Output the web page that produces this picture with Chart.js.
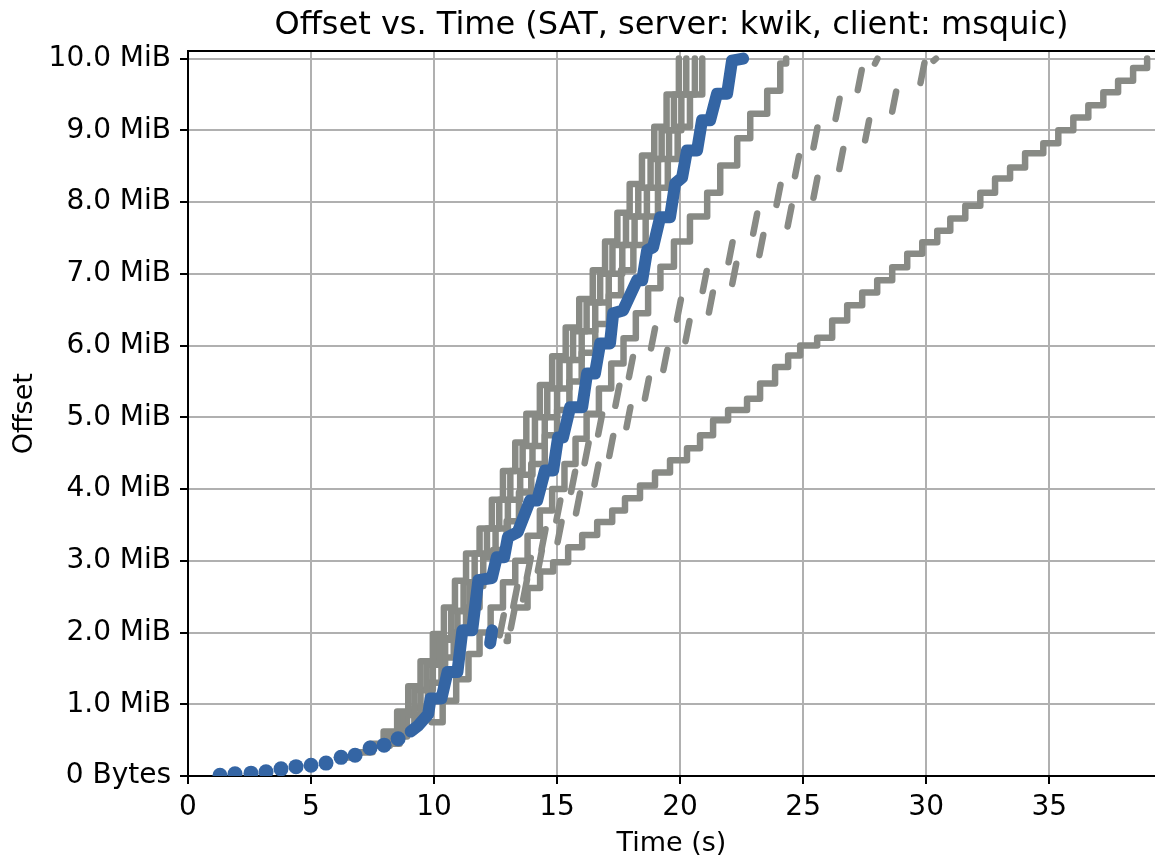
<!DOCTYPE html>
<html>
<head>
<meta charset="utf-8">
<script src="https://cdn.jsdelivr.net/npm/chart.js@4.4.1/dist/chart.umd.min.js"></script>
<style>
  html, body { margin: 0; padding: 0; background: #fff; }
  #wrap { width: 1155px; height: 860px; }
</style>
</head>
<body>
<div id="wrap"><canvas id="offsetChart" width="1155" height="860"></canvas></div>
<script>
// values: [time (s), offset (MiB)], null = gap
var yTicks = [0, 1, 2, 3, 4, 5, 6, 7, 8, 9, 10];
var xTicks = [0, 5, 10, 15, 20, 25, 30, 35];

// highlighted run (blue): slow start dots, then bursts
var blueEarly = [[1.30,0.01],[1.91,0.03],[2.56,0.04],[3.17,0.06],[3.78,0.10],[4.39,0.13],[5.00,0.15],
  [5.61,0.18],[6.22,0.26],[6.79,0.29],[7.40,0.39],[7.97,0.43],[8.54,0.52]];
var blueRun = [[9.05,0.62],[9.35,0.70],[9.76,0.86],[9.86,1.08],[10.30,1.08],[10.55,1.45],[10.95,1.45],
  [11.15,2.03],[11.55,2.03],[11.80,2.73],[12.35,2.76],[12.55,3.05],[12.85,3.05],[13.00,3.33],[13.40,3.40],
  [13.90,3.84],[14.19,3.84],[14.51,4.26],[14.84,4.26],[15.04,4.72],[15.24,4.72],[15.53,5.14],[16.02,5.14],
  [16.22,5.61],[16.54,5.61],[16.75,6.03],[17.15,6.03],[17.28,6.45],[17.68,6.49],[18.25,6.91],[18.46,6.91],
  [18.66,7.33],[18.90,7.37],[19.19,7.79],[19.59,7.79],[19.80,8.26],[20.08,8.34],[20.28,8.72],[20.69,8.72],
  [20.89,9.14],[21.22,9.14],[21.50,9.51],[21.91,9.51],[22.11,9.97],[22.56,10.00], null,
  [12.28,1.85],[12.36,2.03]];

// other runs (gray), staircase corners
var runF1 = [[6.2,0.26],[6.8,0.33],[7.4,0.45],[7.95,0.62],[8.5,0.9],[8.95,1.25],[9.45,1.6],[9.95,1.98],
  [10.4,2.35],[10.85,2.72],[11.3,3.1],[11.85,3.45],[12.35,3.85],[12.8,4.25],[13.3,4.65],[13.75,5.05],
  [14.3,5.45],[14.8,5.85],[15.35,6.25],[15.9,6.65],[16.45,7.05],[16.95,7.45],[17.45,7.85],[17.95,8.25],
  [18.45,8.65],[18.95,9.05],[19.45,9.5],[19.95,10.0]];
var runF2 = [[6.2,0.26],[6.8,0.33],[7.5,0.42],[8.1,0.6],[8.7,0.88],[9.2,1.2],[9.7,1.55],[10.2,1.92],
  [10.7,2.3],[11.2,2.7],[11.65,3.1],[12.15,3.45],[12.65,3.85],[13.1,4.25],[13.6,4.6],[14.1,5.0],
  [14.6,5.4],[15.1,5.8],[15.65,6.2],[16.2,6.6],[16.75,7.0],[17.25,7.4],[17.8,7.8],[18.3,8.2],
  [18.8,8.6],[19.25,9.0],[19.75,9.5],[20.25,10.0]];
var runF3 = [[7.5,0.42],[8.2,0.55],[8.9,0.85],[9.45,1.2],[9.95,1.55],[10.45,1.9],[10.95,2.3],[11.45,2.65],
  [12.0,3.05],[12.5,3.45],[13.0,3.85],[13.5,4.2],[14.0,4.6],[14.5,5.0],[15.0,5.4],[15.5,5.8],
  [16.0,6.2],[16.55,6.6],[17.1,7.0],[17.65,7.4],[18.15,7.8],[18.65,8.2],[19.1,8.6],[19.55,9.0],
  [20.05,9.5],[20.6,10.0]];
var runF4 = [[8.0,0.45],[8.6,0.62],[9.2,0.95],[9.75,1.3],[10.3,1.65],[10.8,2.0],[11.3,2.35],[11.85,2.75],
  [12.4,3.15],[12.95,3.55],[13.45,3.95],[13.95,4.35],[14.5,4.75],[15.0,5.1],[15.5,5.5],[16.0,5.9],
  [16.55,6.3],[17.1,6.7],[17.6,7.05],[18.1,7.4],[18.6,7.8],[19.1,8.2],[19.5,8.6],[19.9,9.05],
  [20.4,9.5],[20.9,10.0]];
var runB = [[9.9,0.75],[10.35,1.05],[10.9,1.35],[11.4,1.7],[11.85,2.0],[12.3,2.35],[12.8,2.7],[13.3,3.0],
  [13.8,3.35],[14.3,3.7],[14.8,4.0],[15.3,4.35],[15.75,4.7],[16.2,5.05],[16.7,5.4],[17.2,5.75],
  [17.7,6.1],[18.2,6.45],[18.7,6.8],[19.2,7.1],[19.75,7.45],[20.4,7.8],[21.1,8.13],[21.63,8.51],
  [22.32,8.89],[22.85,9.23],[23.54,9.55],[24.07,9.93],[24.31,10.0]];
var runE = [[12.95,1.88],[13.0,1.95], null,
  [13.3,2.35],[13.8,2.62],[14.31,2.85],[14.84,2.98],[15.45,3.19],[16.02,3.36],[16.63,3.54],[17.24,3.70],
  [17.76,3.87],[18.37,4.05],[18.98,4.23],[19.59,4.40],[20.28,4.57],[20.81,4.75],[21.34,4.96],[21.95,5.10],
  [22.72,5.26],[23.25,5.47],[23.86,5.70],[24.39,5.86],[24.88,6.00],[25.57,6.11],[26.18,6.35],[26.79,6.56],
  [27.40,6.74],[28.01,6.91],[28.62,7.09],[29.23,7.28],[29.84,7.44],[30.45,7.60],[30.98,7.77],[31.59,7.95],
  [32.20,8.13],[32.80,8.33],[33.41,8.48],[34.02,8.68],[34.76,8.82],[35.37,9.00],[35.98,9.18],[36.59,9.35],
  [37.20,9.53],[37.80,9.69],[38.41,9.87],[38.98,10.0]];

// dashed runs: each burst is one short stroke
var runC = [[12.67,1.96],[12.83,2.24], null, [13.22,2.36],[13.38,2.64], null, [13.77,2.76],[13.93,3.04], null,
  [14.37,3.16],[14.53,3.44], null, [14.97,3.56],[15.13,3.84], null, [15.57,3.96],[15.73,4.24], null,
  [16.12,4.36],[16.28,4.64], null, [16.67,4.76],[16.83,5.04], null, [17.37,5.16],[17.53,5.44], null,
  [17.92,5.56],[18.08,5.84], null, [18.82,5.96],[18.98,6.24], null, [19.87,6.36],[20.03,6.64], null,
  [20.92,6.76],[21.08,7.04], null, [21.97,7.16],[22.13,7.44], null, [22.97,7.56],[23.13,7.84], null,
  [23.92,7.96],[24.08,8.24], null, [24.67,8.36],[24.83,8.64], null, [25.42,8.76],[25.58,9.04], null,
  [26.32,9.16],[26.48,9.44], null, [27.22,9.56],[27.38,9.84], null, [27.92,9.93],[28.02,10.0]];
var runD = [[13.12,2.06],[13.28,2.34], null, [13.62,2.46],[13.78,2.74], null, [14.22,2.86],[14.38,3.14], null,
  [15.02,3.26],[15.18,3.54], null, [15.77,3.66],[15.93,3.94], null, [16.52,4.06],[16.68,4.34], null,
  [17.12,4.46],[17.28,4.74], null, [17.82,4.86],[17.98,5.14], null, [18.57,5.26],[18.73,5.54], null,
  [19.32,5.66],[19.48,5.94], null, [20.22,6.06],[20.38,6.34], null, [21.17,6.46],[21.33,6.74], null,
  [22.12,6.86],[22.28,7.14], null, [23.22,7.26],[23.38,7.54], null, [24.37,7.66],[24.53,7.94], null,
  [25.42,8.06],[25.58,8.34], null, [26.47,8.46],[26.63,8.74], null, [27.52,8.86],[27.68,9.14], null,
  [28.62,9.26],[28.78,9.54], null, [29.77,9.66],[29.93,9.94], null, [30.3,9.97],[30.4,10.0]];

var BLUE = '#3465a4';
var GRAY = '#888a85';
var FONT = "'DejaVu Sans', sans-serif";

function pts(arr) {
  var out = [];
  var lastX = 0;
  for (var i = 0; i < arr.length; i++) {
    var p = arr[i];
    if (p) { out.push({x: p[0], y: p[1]}); lastX = p[0]; }
    else out.push({x: lastX, y: null});
  }
  return out;
}

function grayRun(arr, stepped) {
  return {
    data: pts(arr), borderColor: GRAY, backgroundColor: GRAY, borderWidth: 6.5,
    pointRadius: 0, stepped: stepped ? 'before' : false, spanGaps: false,
    borderCapStyle: 'round', borderJoinStyle: 'round'
  };
}

var datasets = [
  { data: pts(blueEarly), showLine: false, pointRadius: 7.5, pointBorderWidth: 0,
    backgroundColor: BLUE, borderColor: BLUE },
  { data: pts(blueRun), borderColor: BLUE, borderWidth: 12, pointRadius: 0, spanGaps: false,
    borderCapStyle: 'round', borderJoinStyle: 'round' },
  grayRun(runF1, true), grayRun(runF2, true), grayRun(runF3, true), grayRun(runF4, true),
  grayRun(runB, true), grayRun(runC, false), grayRun(runD, false), grayRun(runE, true)
];

var ctx = document.getElementById('offsetChart');
var chart = new Chart(ctx, {
  type: 'line',
  data: { datasets: datasets },
  options: {
    responsive: false,
    animation: false,
    layout: { padding: 0, autoPadding: false },
    plugins: {
      legend: { display: false },
      tooltip: { enabled: false },
      title: {
        display: true, fullSize: false,
        text: 'Offset vs. Time (SAT, server: kwik, client: msquic)',
        color: '#000', font: { family: FONT, size: 32, weight: 'normal' },
        padding: { top: 6, bottom: 7 }
      }
    },
    scales: {
      x: {
        type: 'linear', position: 'bottom', min: 0, max: 39.3,
        afterBuildTicks: function(s) { s.ticks = xTicks.map(function(v) { return {value: v}; }); },
        afterFit: function(s) { s.height = 84; },
        ticks: { color: '#000', font: { family: FONT, size: 28 }, padding: 7, includeBounds: false },
        grid: { color: '#b0b0b0', lineWidth: 2, tickColor: '#000', tickLength: 8 },
        border: { color: '#000', width: 2 },
        title: { display: true, text: 'Time (s)', color: '#000', font: { family: FONT, size: 27 },
          padding: { top: 0, bottom: 0 } }
      },
      xTop: {
        type: 'linear', position: 'top', min: 0, max: 39.3,
        ticks: { display: false },
        grid: { drawOnChartArea: false, drawTicks: false },
        border: { color: '#000', width: 2 }
      },
      y: {
        type: 'linear', min: 0, max: 10.1,
        afterBuildTicks: function(s) { s.ticks = yTicks.map(function(v) { return {value: v}; }); },
        afterFit: function(s) { s.width = 188; },
        ticks: {
          color: '#000', font: { family: FONT, size: 28 }, padding: 9, includeBounds: false,
          callback: function(v) { return v === 0 ? '0 Bytes' : v.toFixed(1) + ' MiB'; }
        },
        grid: { color: '#b0b0b0', lineWidth: 2, tickColor: '#000', tickLength: 8 },
        border: { color: '#000', width: 2 },
        title: { display: true, text: 'Offset', color: '#000', font: { family: FONT, size: 27 },
          padding: { top: 9, bottom: 0 } }
      }
    }
  }
});
</script>
</body>
</html>
